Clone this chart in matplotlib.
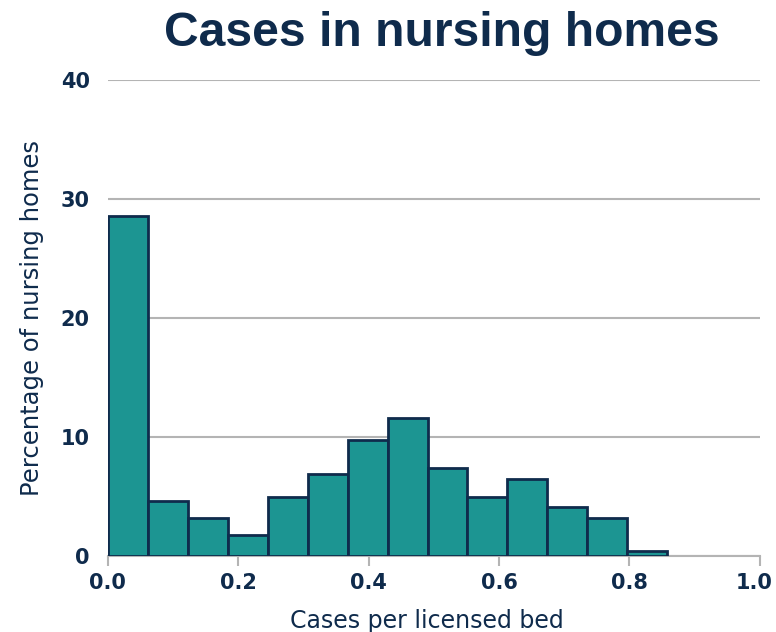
import numpy as np
import matplotlib
matplotlib.use("Agg")
import matplotlib.pyplot as plt
from matplotlib.transforms import ScaledTranslation

# Data
bin_width = 0.0613
bin_edges = [round(i * bin_width, 4) for i in range(15)]
percentages = [28.6, 4.6, 3.2, 1.8, 5.0, 6.9, 9.8, 11.6, 7.4, 5.0, 6.5, 4.1, 3.2, 0.4]
x_ticks = [0.0, 0.2, 0.4, 0.6, 0.8, 1.0]
x_tick_labels = ["0.0", "0.2", "0.4", "0.6", "0.8", "1.0"]
y_ticks = [0, 10, 20, 30, 40]
y_tick_labels = ["0", "10", "20", "30", "40"]

navy = "#0f2b4c"
teal = "#1c9592"
grid = "#b4b4b4"
font = "DejaVu Sans"

fig = plt.figure(figsize=(7.76, 6.32), dpi=100)
ax = fig.add_axes([0.139, 0.120, 0.840, 0.753])

lefts = bin_edges[:-1]
widths = [bin_edges[i + 1] - bin_edges[i] for i in range(len(lefts))]
ax.bar(lefts, percentages, width=widths, align="edge", color=teal,
       edgecolor=navy, linewidth=2, zorder=3)

ax.set_xlim(0, 1.0)
ax.set_ylim(0, 40)
ax.set_xticks(x_ticks)
ax.set_xticklabels(x_tick_labels)
ax.set_yticks(y_ticks)
ax.set_yticklabels(y_tick_labels)

for s in ["top", "right", "left"]:
    ax.spines[s].set_visible(False)
ax.spines["bottom"].set_color(grid)
ax.spines["bottom"].set_linewidth(1.5)
ax.spines["bottom"].set_zorder(1)

ax.yaxis.grid(True, color=grid, linewidth=1.5, zorder=0)
ax.set_axisbelow(True)

ax.tick_params(axis="y", length=0, pad=13)
ax.tick_params(axis="x", length=7, width=1.5, color=grid, pad=5)
for lab in ax.get_xticklabels() + ax.get_yticklabels():
    lab.set_fontfamily(font)
    lab.set_fontweight("bold")
    lab.set_fontsize(15)
    lab.set_color(navy)

# keep the last x tick label inside the figure
last = ax.get_xticklabels()[-1]
last.set_transform(last.get_transform() +
                   ScaledTranslation(-4 / 72, 0, fig.dpi_scale_trans))

ax.set_xlabel("Cases per licensed bed", fontfamily=font, fontsize=17,
              color=navy, labelpad=12, x=0.489)
ax.set_ylabel("Percentage of nursing homes", fontfamily=font, fontsize=17.5,
              color=navy, labelpad=12)

ax.set_title("Cases in nursing homes", fontfamily="Liberation Sans",
             fontweight="bold", fontsize=34.6, color=navy, pad=25, x=0.513)

fig.savefig("out.png", dpi=100)
